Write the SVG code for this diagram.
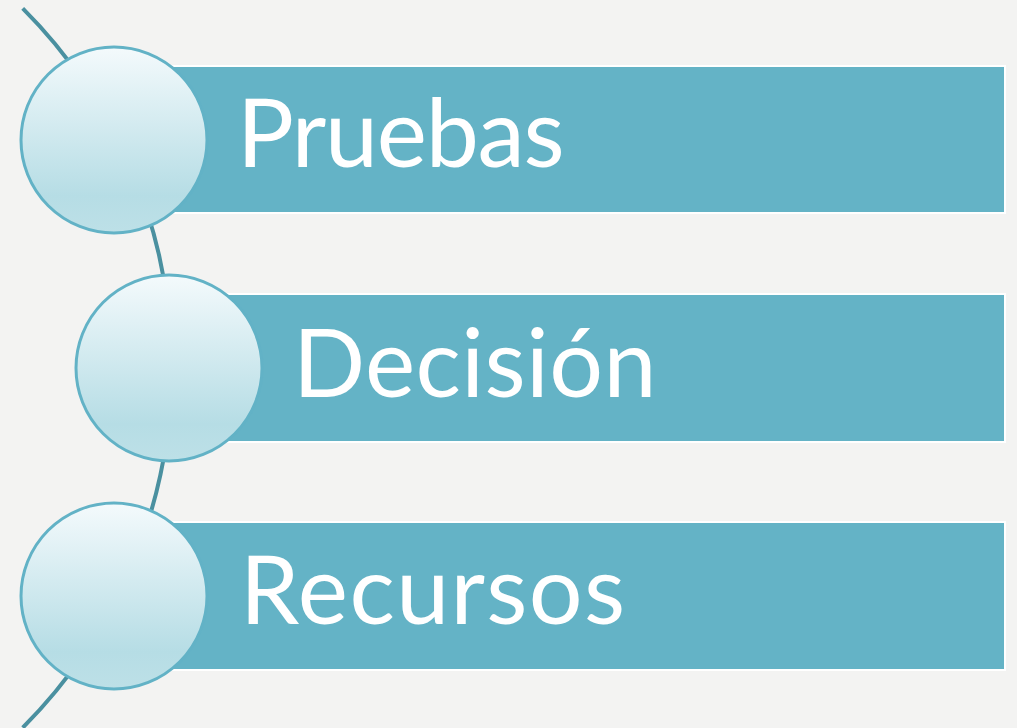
<svg xmlns="http://www.w3.org/2000/svg" width="1017" height="728" viewBox="0 0 1017 728">
<defs>
<linearGradient id="g" x1="0" y1="0" x2="0" y2="1">
<stop offset="0" stop-color="#f4fafc"/>
<stop offset="0.8" stop-color="#b6dde5"/>
<stop offset="1" stop-color="#bde0e7"/>
</linearGradient>
<style>
.bar{fill:#64b3c6;stroke:#ffffff;stroke-width:2}
.ball{fill:url(#g);stroke:#62b2c6;stroke-width:3}
.lbl{font-family:Lato,"Open Sans",sans-serif;font-size:95px;fill:#ffffff}
.arc{fill:none;stroke:#4a90a0;stroke-width:4}
</style>
</defs>
<rect width="1017" height="728" fill="#f3f3f2"/>
<g id="connectors">
<path class="arc" d="M22.7,8.3 A508.8,508.8 0 0 1 22.7,727.7"/>
</g>
<g id="node1">
<rect class="bar" x="114" y="66" width="891" height="147"/>
<circle class="ball" cx="114" cy="140" r="93"/>
<text class="lbl" x="237" y="167" letter-spacing="-1.3">Pruebas</text>
</g>
<g id="node2">
<rect class="bar" x="169" y="294" width="836" height="148"/>
<circle class="ball" cx="169" cy="368" r="93"/>
<text class="lbl" x="293" y="397" letter-spacing="0.4">Decisión</text>
</g>
<g id="node3">
<rect class="bar" x="114" y="522" width="891" height="148"/>
<circle class="ball" cx="114" cy="596" r="93"/>
<text class="lbl" x="240" y="624" letter-spacing="1.4">Recursos</text>
</g>
</svg>
